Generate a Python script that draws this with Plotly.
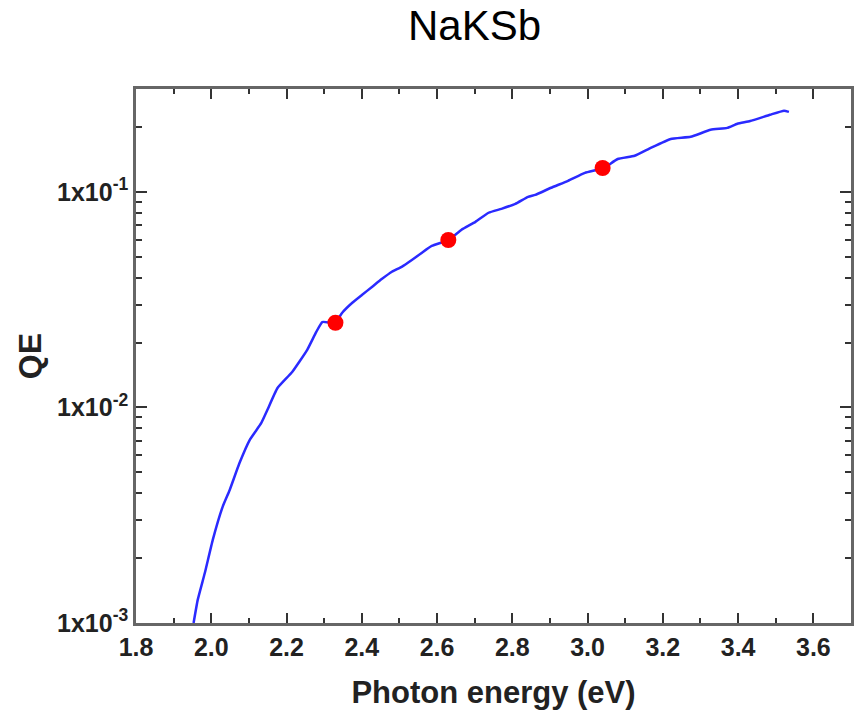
import plotly.graph_objects as go
import numpy as np

# QE curve (photon energy in eV, QE)
energy = [1.953, 1.964, 1.983, 2.004, 2.030, 2.049, 2.075, 2.102, 2.133, 2.149,
          2.176, 2.215, 2.255, 2.279, 2.295, 2.329, 2.348, 2.374, 2.401, 2.427,
          2.453, 2.480, 2.506, 2.533, 2.559, 2.586, 2.631, 2.665, 2.702, 2.737,
          2.771, 2.808, 2.842, 2.861, 2.903, 2.948, 2.993, 3.043, 3.080, 3.125,
          3.168, 3.221, 3.274, 3.327, 3.371, 3.398, 3.432, 3.485, 3.522, 3.535]
qe = [1.00e-3, 1.28e-3, 1.71e-3, 2.43e-3, 3.45e-3, 4.14e-3, 5.52e-3, 7.06e-3, 8.47e-3, 9.72e-3,
      1.23e-2, 1.46e-2, 1.85e-2, 2.24e-2, 2.49e-2, 2.47e-2, 2.75e-2, 3.05e-2, 3.33e-2, 3.62e-2,
      3.94e-2, 4.26e-2, 4.49e-2, 4.83e-2, 5.21e-2, 5.61e-2, 5.98e-2, 6.67e-2, 7.26e-2, 8.00e-2,
      8.34e-2, 8.79e-2, 9.48e-2, 9.68e-2, 0.1045, 0.1125, 0.1225, 0.129, 0.142, 0.147,
      0.160, 0.176, 0.180, 0.194, 0.198, 0.207, 0.213, 0.228, 0.238, 0.235]

# Laser wavelength points
dot_energy = [2.33, 2.63, 3.04]
dot_qe = [0.0247, 0.0598, 0.129]

x_major = [1.8, 2.0, 2.2, 2.4, 2.6, 2.8, 3.0, 3.2, 3.4, 3.6]
x_labels = ["1.8", "2.0", "2.2", "2.4", "2.6", "2.8", "3.0", "3.2", "3.4", "3.6"]
y_major = [1e-3, 1e-2, 1e-1]
y_labels = ["1x10<sup>-3</sup>", "1x10<sup>-2</sup>", "1x10<sup>-1</sup>"]
y_minor = [m * 10.0 ** e for e in (-3, -2) for m in range(2, 10)] + [0.2, 0.3]

FONT = "Liberation Sans, Arial, Helvetica, sans-serif"

fig = go.Figure()
fig.add_trace(go.Scatter(x=energy, y=qe, mode="lines",
                         line=dict(color="#2a2aff", width=2.5, shape="spline", smoothing=0.4),
                         showlegend=False))
fig.add_trace(go.Scatter(x=dot_energy, y=dot_qe, mode="markers",
                         marker=dict(color="#ff0000", size=16, line=dict(width=0)),
                         showlegend=False))

fig.update_layout(
    width=861, height=715,
    margin=dict(l=136, r=7, t=89, b=92),
    paper_bgcolor="white", plot_bgcolor="white",
    title=dict(text="NaKSb", x=474.5 / 861, xref="container", xanchor="center",
               y=1 - 25 / 715, yref="container", yanchor="middle",
               font=dict(family=FONT, size=42, color="black")),
    font=dict(family=FONT, color="#222"),
)

fig.update_xaxes(
    range=[1.8, 3.7], showgrid=False, zeroline=False,
    tickmode="array", tickvals=x_major, ticktext=x_labels,
    ticks="inside", ticklen=10, tickwidth=2, tickcolor="#333",
    showline=True, linecolor="#666", linewidth=2.5, mirror="ticks",
    tickfont=dict(family=FONT, size=25, color="#222", weight="bold"),
    minor=dict(tickmode="linear", tick0=1.8, dtick=0.1, ticks="inside", ticklen=5,
               tickwidth=2, tickcolor="#333", showgrid=False),
    title=dict(text="Photon energy (eV)", standoff=22,
               font=dict(family=FONT, size=31, color="#222", weight="bold")),
)
fig.update_yaxes(
    type="log", range=[-3, np.log10(0.3)], showgrid=False, zeroline=False,
    tickmode="array", tickvals=y_major, ticktext=y_labels,
    ticks="inside", ticklen=11, tickwidth=2, tickcolor="#333",
    showline=True, linecolor="#666", linewidth=2.5, mirror="ticks",
    tickfont=dict(family=FONT, size=25, color="#222", weight="bold"),
    minor=dict(tickmode="array", tickvals=y_minor, ticks="inside", ticklen=6,
               tickwidth=2, tickcolor="#333", showgrid=False),
    title=dict(text="QE", standoff=6,
               font=dict(family=FONT, size=32, color="#222", weight="bold")),
)

fig.write_html("out.html")
